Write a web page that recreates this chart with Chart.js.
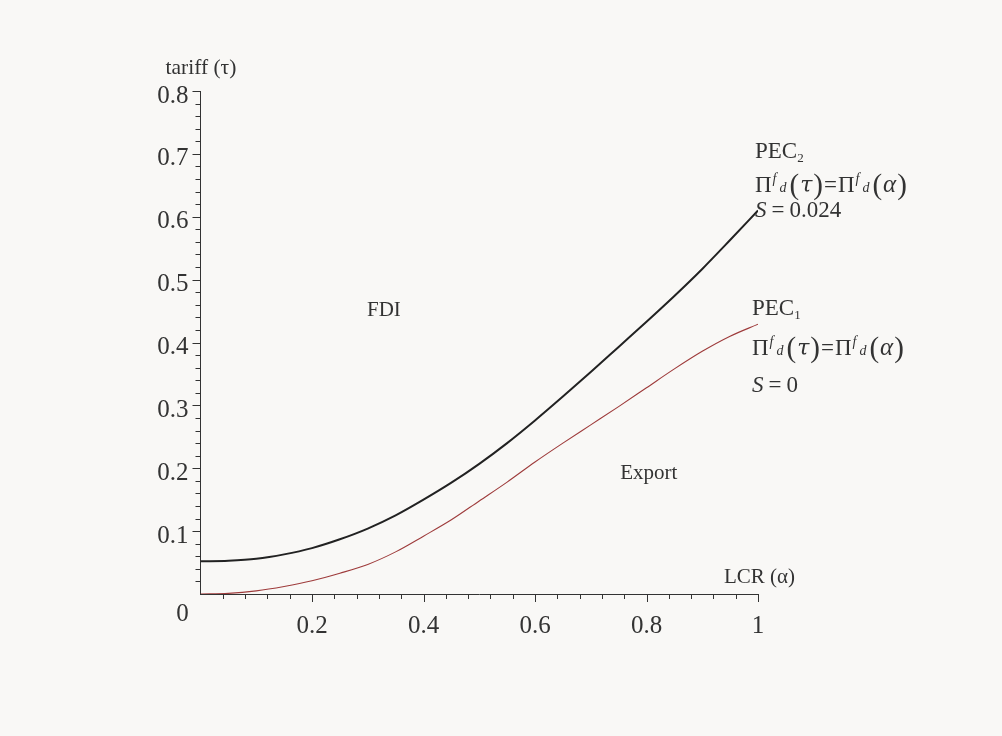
<!DOCTYPE html>
<html>
<head>
<meta charset="utf-8">
<script src="https://cdn.jsdelivr.net/npm/chart.js@4.4.1/dist/chart.umd.min.js"></script>
<style>
	html, body { margin: 0; padding: 0; background: #f9f8f6; }
	#wrap { width: 1002px; height: 736px; position: relative; }
</style>
</head>
<body>
<div id="wrap"><canvas id="chart-pec"></canvas></div>
<script>
// LCR (alpha) sample points
const LCR = [0, 0.05, 0.1, 0.15, 0.2, 0.25, 0.3, 0.35, 0.4, 0.45, 0.5, 0.55, 0.6, 0.65, 0.7, 0.75, 0.8, 0.85, 0.9, 0.95, 1];
// PEC2, S = 0.024
const PEC2 = [0.052, 0.053, 0.056, 0.063, 0.073, 0.087, 0.104, 0.125, 0.150, 0.177, 0.207, 0.240, 0.276, 0.314, 0.353, 0.393, 0.433, 0.474, 0.517, 0.563, 0.610];
// PEC1, S = 0
const PEC1 = [0, 0.001, 0.005, 0.012, 0.021, 0.033, 0.047, 0.067, 0.092, 0.118, 0.148, 0.178, 0.210, 0.240, 0.269, 0.298, 0.328, 0.358, 0.386, 0.410, 0.429];

const X_MAX = 1;
const Y_MAX = 0.8;
const X_MINOR = 0.04;
const Y_MINOR = 0.02;

const SERIF = "'Liberation Serif', 'Times New Roman', serif";
const INK = "#333";

// Minor / major tick marks and all the free text
const axisDecor = {
	id: "axisDecor",
	afterDraw(chart) {
		const { ctx, scales: { x, y } } = chart;
		const x0 = x.getPixelForValue(0);
		const y0 = y.getPixelForValue(0);
		ctx.save();
		ctx.strokeStyle = INK;
		ctx.lineWidth = 1;
		ctx.beginPath();
		for (let i = 1; i <= Math.round(X_MAX / X_MINOR); i++) {
			const px = Math.round(x.getPixelForValue(i * X_MINOR)) + 0.5;
			const len = i % 5 === 0 ? 8 : 5;
			ctx.moveTo(px, y0);
			ctx.lineTo(px, y0 + len);
		}
		for (let i = 1; i <= Math.round(Y_MAX / Y_MINOR); i++) {
			const py = Math.round(y.getPixelForValue(i * Y_MINOR)) + 0.5;
			const len = i % 5 === 0 ? 8 : 5;
			ctx.moveTo(x0, py);
			ctx.lineTo(x0 - len, py);
		}
		ctx.stroke();

		ctx.fillStyle = INK;
		ctx.textBaseline = "alphabetic";
		ctx.textAlign = "left";

		// origin label
		ctx.font = `25px ${SERIF}`;
		ctx.textAlign = "center";
		ctx.fillText("0", x0 - 18, y0 + 27);
		ctx.textAlign = "left";

		// axis titles
		ctx.font = `21.5px ${SERIF}`;
		ctx.fillText("tariff (τ)", x0 - 35, y.getPixelForValue(Y_MAX) - 17);
		ctx.font = `21px ${SERIF}`;
		ctx.fillText("LCR (α)", x.getPixelForValue(X_MAX) - 34, y0 - 11);

		// region labels
		ctx.font = `21px ${SERIF}`;
		ctx.textAlign = "center";
		ctx.fillText("FDI", x.getPixelForValue(0.329), y.getPixelForValue(0.453) + 7);
		ctx.fillText("Export", x.getPixelForValue(0.804), y.getPixelForValue(0.194) + 7);
		ctx.textAlign = "left";

		// curve labels
		const right = x.getPixelForValue(X_MAX);
		drawBlock(ctx, right - 3, 158, 192, 217, "2", "0.024");
		drawBlock(ctx, right - 6, 315, 355, 392, "1", "0");
		ctx.restore();
	},
};

function drawRich(ctx, x, y, parts) {
	parts.forEach((p) => {
		ctx.font = p.f;
		x += p.pre || 0;
		ctx.fillText(p.t, x, y + (p.dy || 0));
		x += ctx.measureText(p.t).width + (p.post || 0);
	});
}

function drawBlock(ctx, left, b1, b2, b3, sub, sVal) {
	const up = `23px ${SERIF}`;
	const it = `italic 23px ${SERIF}`;
	const sm = `italic 14px ${SERIF}`;
	const par = `29px ${SERIF}`;
	drawRich(ctx, left, b1, [
		{ t: "PEC", f: up },
		{ t: sub, f: `13px ${SERIF}`, dy: 4 },
	]);
	const pi = (arg, argFont) => [
		{ t: "Π", f: up },
		{ t: "f", f: sm, dy: -9, pre: 1 },
		{ t: "d", f: sm, dy: 0, pre: 3 },
		{ t: "(", f: par, dy: 2, pre: 3 },
		{ t: arg, f: argFont, pre: 1 },
		{ t: ")", f: par, dy: 2, pre: 1 },
	];
	drawRich(ctx, left, b2, [
		...pi("τ", `italic 22px 'DejaVu Serif', serif`),
		{ t: "=", f: up, pre: 1, post: 1 },
		...pi("α", `italic 25px ${SERIF}`),
	]);
	drawRich(ctx, left, b3, [
		{ t: "S", f: it, post: 5 },
		{ t: "=", f: up, post: 5 },
		{ t: sVal, f: up },
	]);
}

const DATA = {
	datasets: [
		{
			label: "PEC2",
			data: LCR.map((a, i) => ({ x: a, y: PEC2[i] })),
			borderColor: "#222",
			borderWidth: 2,
			pointRadius: 0,
			cubicInterpolationMode: "monotone",
		},
		{
			label: "PEC1",
			data: LCR.map((a, i) => ({ x: a, y: PEC1[i] })),
			borderColor: "#9e3b3b",
			borderWidth: 1.1,
			pointRadius: 0,
			cubicInterpolationMode: "monotone",
		},
	],
};

const tickFont = { family: SERIF, size: 25 };

const CONFIG = {
	type: "line",
	data: DATA,
	options: {
		responsive: true,
		maintainAspectRatio: false,
		animation: false,
		events: [],
		layout: {
			padding: { left: 0, top: 91, right: 244, bottom: 92 },
		},
		plugins: {
			legend: { display: false },
			title: { display: false },
			tooltip: { enabled: false },
		},
		scales: {
			x: {
				type: "linear",
				min: 0,
				max: X_MAX,
				afterFit: (s) => { s.height = 50; },
				border: { display: true, color: INK, width: 1 },
				grid: { display: false, drawTicks: false },
				ticks: {
					stepSize: 0.2,
					padding: 17,
					color: INK,
					font: tickFont,
					maxRotation: 0,
					callback: (v) => (v === 0 ? "" : String(+v.toFixed(1))),
				},
			},
			y: {
				type: "linear",
				min: 0,
				max: Y_MAX,
				afterFit: (s) => { s.width = 200.5; },
				border: { display: true, color: INK, width: 1 },
				grid: { display: false, drawTicks: false },
				ticks: {
					stepSize: 0.1,
					padding: 12,
					labelOffset: 5,
					color: INK,
					font: tickFont,
					callback: (v) => (v === 0 ? "" : (+v).toFixed(1)),
				},
			},
		},
	},
	plugins: [axisDecor],
};

new Chart(document.getElementById("chart-pec"), CONFIG);
</script>
</body>
</html>
